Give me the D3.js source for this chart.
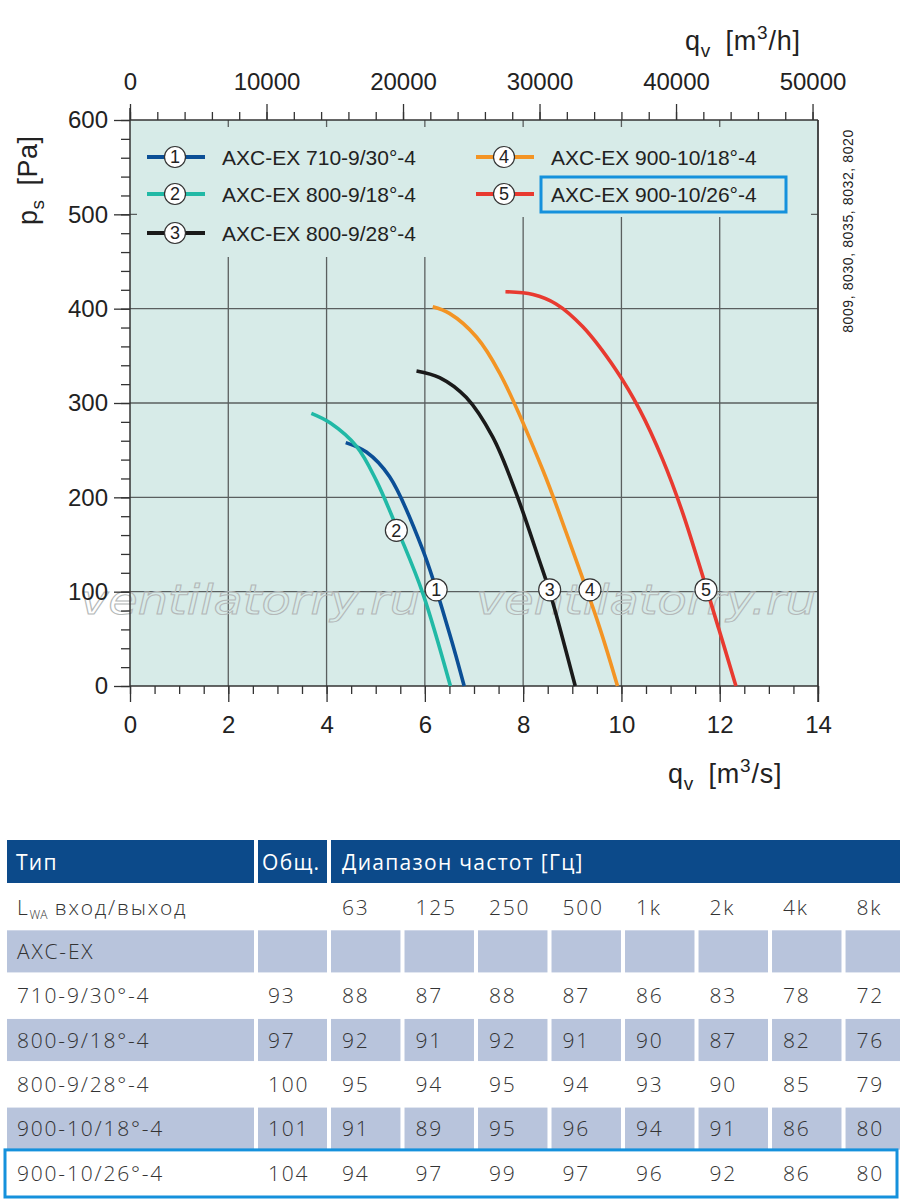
<!DOCTYPE html>
<html lang="ru">
<head>
<meta charset="UTF-8">
<title>AXC-EX characteristic curves</title>
<script src="https://d3js.org/d3.v7.min.js"></script>
<style>
    body { margin: 0; background: #fff; }
    svg { display: block; }
    .axis path, .axis line { stroke: #333; stroke-width: 1.3px; }
    .axis text { font-family: 'Liberation Sans', Arial, sans-serif; font-size: 24px; fill: #222; }
    .grid line { stroke: #5a5f5f; stroke-width: 1.3px; }
    .lbl { font-family: 'Liberation Sans', Arial, sans-serif; fill: #222; }
    .tbl { font-family: 'Open Sans', 'Noto Sans', sans-serif; font-size: 21px; font-weight: 300; fill: #333; letter-spacing: 1.8px; }
    .hdr { font-family: 'Open Sans', 'Noto Sans', sans-serif; font-size: 21px; font-weight: 400; fill: #fff; letter-spacing: 1.3px; }
</style>
</head>
<body>
<svg id="chart" width="900" height="1201"></svg>
<script>
// ---- curve data (qv in m3/s, ps in Pa) ----
const curveNames = ['AXC-EX 710-9/30°-4', 'AXC-EX 800-9/18°-4', 'AXC-EX 800-9/28°-4',
                    'AXC-EX 900-10/18°-4', 'AXC-EX 900-10/26°-4'];
const curveColors = ['#0b4f96', '#21b9a6', '#1a1a1a', '#f39424', '#e83a30'];

const qv1 = [4.39, 4.81, 5.28, 5.96, 6.50, 6.80];
const ps1 = [258, 248, 222, 144, 56, 0];
const qv2 = [3.69, 4.07, 4.61, 5.01, 5.49, 5.96, 6.52];
const ps2 = [289, 279, 254, 218, 160, 98, 0];
const qv3 = [5.83, 6.30, 6.84, 7.38, 7.86, 8.33, 8.54, 9.06];
const ps3 = [334, 327, 306, 264, 204, 133, 100, 0];
const qv4 = [6.16, 6.50, 7.05, 7.52, 8.40, 8.88, 9.55, 9.92];
const ps4 = [402, 395, 370, 332, 229, 162, 63, 0];
const qv5 = [7.64, 8.20, 8.67, 9.21, 9.89, 10.37, 10.84, 11.25, 11.99, 12.33];
const ps5 = [418, 415, 405, 381, 335, 293, 240, 183, 59, 0];

// curve number markers
const markQv = [6.23, 5.42, 8.54, 9.36, 11.72];
const markPs = [102, 165, 102, 102, 102];

// axis ticks
const xTicks = [0, 2, 4, 6, 8, 10, 12, 14];
const yTicks = [0, 100, 200, 300, 400, 500, 600];
const topTicks = [0, 10000, 20000, 30000, 40000, 50000];
const sideNote = '8009, 8030, 8035, 8032, 8020';
const watermark = 'ventilatorry.ru';

// ---- sound power table ----
const tableHead = ['Тип', 'Общ.', 'Диапазон частот [Гц]'];
const freqs = ['63', '125', '250', '500', '1k', '2k', '4k', '8k'];
const types = ['710-9/30°-4', '800-9/18°-4', '800-9/28°-4', '900-10/18°-4', '900-10/26°-4'];
const totals = [93, 97, 100, 101, 104];
const bands = [
    [88, 87, 88, 87, 86, 83, 78, 72],
    [92, 91, 92, 91, 90, 87, 82, 76],
    [95, 94, 95, 94, 93, 90, 85, 79],
    [91, 89, 95, 96, 94, 91, 86, 80],
    [94, 97, 99, 97, 96, 92, 86, 80]
];

const svg = d3.select('#chart');
const x = d3.scaleLinear().domain([0, 14]).range([130, 818]);
const y = d3.scaleLinear().domain([0, 600]).range([686, 120]);
const xTop = d3.scaleLinear().domain([0, 14 * 3600]).range([130, 818]);

// plot background
svg.append('rect')
    .attr('x', x(0)).attr('y', y(600))
    .attr('width', x(14) - x(0)).attr('height', y(0) - y(600))
    .attr('fill', '#d7ebe8');

// grid
const grid = svg.append('g').attr('class', 'grid');
grid.selectAll('.v').data(xTicks.slice(1)).enter().append('line')
    .attr('x1', d => x(d)).attr('x2', d => x(d))
    .attr('y1', y(600)).attr('y2', y(0));
grid.selectAll('.h').data(yTicks.slice(1, -1)).enter().append('line')
    .attr('x1', x(0)).attr('x2', x(14))
    .attr('y1', d => y(d)).attr('y2', d => y(d));

// legend background hides the grid behind it
svg.append('path')
    .attr('d', 'M137,127 H811 V217 H470 V257 H137 Z')
    .attr('fill', '#d7ebe8');

// watermark
[80, 476].forEach(function(wx) {
    svg.append('text')
        .attr('x', wx).attr('y', 614)
        .attr('textLength', 340).attr('lengthAdjust', 'spacingAndGlyphs')
        .style('font-family', "'DejaVu Sans', sans-serif")
        .style('font-style', 'italic').style('font-size', '40px')
        .attr('fill', 'none').attr('stroke', '#b4b8b8').attr('stroke-width', 1)
        .text(watermark);
});

// axes
function styleAxis(g) { g.attr('class', 'axis'); g.select('.domain').remove(); }

svg.append('g').attr('transform', 'translate(0,' + y(0) + ')')
    .call(d3.axisBottom(x).tickValues(d3.range(0, 14.01, 0.5)).tickSize(8).tickFormat(''))
    .call(styleAxis);
svg.append('g').attr('transform', 'translate(0,' + y(0) + ')')
    .call(d3.axisBottom(x).tickValues(xTicks).tickSize(16).tickPadding(14))
    .call(styleAxis);

svg.append('g').attr('transform', 'translate(' + x(0) + ',0)')
    .call(d3.axisLeft(y).tickValues(d3.range(0, 601, 20)).tickSize(9).tickFormat(''))
    .call(styleAxis);
svg.append('g').attr('transform', 'translate(' + x(0) + ',0)')
    .call(d3.axisLeft(y).tickValues(yTicks).tickSize(16).tickPadding(6))
    .call(styleAxis);

svg.append('g').attr('transform', 'translate(0,' + y(600) + ')')
    .call(d3.axisTop(xTop).tickValues(d3.range(0, 50001, 2000)).tickSize(8).tickFormat(''))
    .call(styleAxis);
svg.append('g').attr('transform', 'translate(0,' + y(600) + ')')
    .call(d3.axisTop(xTop).tickValues(topTicks).tickSize(16).tickPadding(14).tickFormat(d3.format('d')))
    .call(styleAxis);

// frame lines
const frame = svg.append('g').attr('stroke', '#333').attr('stroke-width', 1.5);
frame.append('line').attr('x1', x(0)).attr('x2', x(14)).attr('y1', y(0)).attr('y2', y(0));
frame.append('line').attr('x1', x(0)).attr('x2', x(14)).attr('y1', y(600)).attr('y2', y(600));
frame.append('line').attr('x1', x(0)).attr('x2', x(0)).attr('y1', y(600) - 12).attr('y2', y(0));
frame.append('line').attr('x1', x(14)).attr('x2', x(14)).attr('y1', y(600)).attr('y2', y(0) + 16);

// axis titles
function qvTitle(tx, ty, unit) {
    const t = svg.append('text').attr('class', 'lbl').attr('x', tx).attr('y', ty)
        .style('font-size', '27px').style('letter-spacing', '0.8px');
    t.append('tspan').text('q');
    t.append('tspan').attr('dy', 7).style('font-size', '19px').text('v');
    t.append('tspan').attr('dy', -7).text('\u2002[m');
    t.append('tspan').attr('dy', -11).style('font-size', '19px').text('3');
    t.append('tspan').attr('dy', 11).text(unit);
}
qvTitle(685, 50, '/h]');
qvTitle(668, 783, '/s]');

const tLeft = svg.append('text').attr('class', 'lbl')
    .attr('transform', 'translate(37,225) rotate(-90)')
    .style('font-size', '27px').style('letter-spacing', '0.5px');
tLeft.append('tspan').text('p');
tLeft.append('tspan').attr('dy', 7).style('font-size', '19px').text('s');
tLeft.append('tspan').attr('dy', -7).text('\u2002[Pa]');

svg.append('text').attr('class', 'lbl')
    .attr('transform', 'translate(853,231) rotate(-90)')
    .attr('text-anchor', 'middle').style('font-size', '14px').style('letter-spacing', '0.6px')
    .text(sideNote);

// curves
const series = [[qv1, ps1], [qv2, ps2], [qv3, ps3], [qv4, ps4], [qv5, ps5]];
const line = d3.line().x(d => x(d[0])).y(d => y(d[1])).curve(d3.curveCatmullRom.alpha(0.5));
series.forEach(function(s, i) {
    svg.append('path')
        .datum(s[0].map((q, j) => [q, s[1][j]]))
        .attr('d', line)
        .attr('fill', 'none')
        .attr('stroke', curveColors[i])
        .attr('stroke-width', 3.6);
});

function marker(cx, cy, r, n, fs) {
    const g = svg.append('g');
    g.append('circle').attr('cx', cx).attr('cy', cy).attr('r', r)
        .attr('fill', '#fff').attr('stroke', '#333').attr('stroke-width', 1.2);
    g.append('text').attr('class', 'lbl').attr('x', cx).attr('y', cy)
        .attr('text-anchor', 'middle').attr('dy', '0.36em')
        .style('font-size', fs + 'px').text(n);
}

markQv.forEach(function(q, i) { marker(x(q), y(markPs[i]), 11, i + 1, 18); });

// legend
const legX = [147, 476];
const legY = [157, 194, 233];
curveNames.forEach(function(name, i) {
    const col = i < 3 ? 0 : 1;
    const row = i < 3 ? i : i - 3;
    const lx = legX[col], ly = legY[row];
    svg.append('line').attr('x1', lx).attr('x2', lx + 58).attr('y1', ly).attr('y2', ly)
        .attr('stroke', curveColors[i]).attr('stroke-width', 4);
    marker(lx + 28, ly, 10.5, i + 1, 18);
    svg.append('text').attr('class', 'lbl').attr('x', lx + 75).attr('y', ly)
        .attr('dy', '0.36em').style('font-size', '21px').text(name);
});
svg.append('rect').attr('x', 541).attr('y', 177).attr('width', 245).attr('height', 35)
    .attr('fill', 'none').attr('stroke', '#1591dc').attr('stroke-width', 3);

// ---- table ----
const colBand = d3.scaleBand().domain(freqs).range([331, 915]).paddingInner(0.055);
const rowKeys = ['lwa', 'axc'].concat(types);
const rowBand = d3.scaleBand().domain(rowKeys).range([886, 1194]).paddingInner(0.05);
const typeCol = [7, 254];
const totCol = [258, 327];
const lavender = '#b8c4dc';
const navy = '#0c4a8a';

// header
svg.append('rect').attr('x', typeCol[0]).attr('y', 840).attr('width', typeCol[1] - typeCol[0]).attr('height', 43).attr('fill', navy);
svg.append('rect').attr('x', totCol[0]).attr('y', 840).attr('width', totCol[1] - totCol[0]).attr('height', 43).attr('fill', navy);
svg.append('rect').attr('x', colBand(freqs[0])).attr('y', 840).attr('width', 900 - colBand(freqs[0])).attr('height', 43).attr('fill', navy);
[[16, tableHead[0]], [262, tableHead[1]], [342, tableHead[2]]].forEach(function(h) {
    svg.append('text').attr('class', 'hdr').attr('x', h[0]).attr('y', 862).attr('dy', '0.36em').text(h[1]);
});

// body rows
rowKeys.forEach(function(k, i) {
    const ry = rowBand(k), rh = rowBand.bandwidth();
    if (i % 2 === 1) {
        svg.append('rect').attr('x', typeCol[0]).attr('y', ry).attr('width', typeCol[1] - typeCol[0]).attr('height', rh).attr('fill', lavender);
        svg.append('rect').attr('x', totCol[0]).attr('y', ry).attr('width', totCol[1] - totCol[0]).attr('height', rh).attr('fill', lavender);
        freqs.forEach(function(f) {
            svg.append('rect').attr('x', colBand(f)).attr('y', ry)
                .attr('width', Math.min(colBand.bandwidth(), 900 - colBand(f))).attr('height', rh).attr('fill', lavender);
        });
    }
    const cy = ry + rh / 2;
    if (k === 'lwa') {
        const t = svg.append('text').attr('class', 'tbl').attr('x', 17).attr('y', cy).attr('dy', '0.36em');
        t.append('tspan').text('L');
        t.append('tspan').attr('dy', 4).style('font-size', '12px').style('letter-spacing', '0px').text('WA');
        t.append('tspan').attr('dy', -4).text(' вход/выход');
        freqs.forEach(function(f) {
            svg.append('text').attr('class', 'tbl').attr('x', colBand(f) + 11).attr('y', cy).attr('dy', '0.36em').text(f);
        });
    } else if (k === 'axc') {
        svg.append('text').attr('class', 'tbl').attr('x', 17).attr('y', cy).attr('dy', '0.36em').text('AXC-EX');
    } else {
        const ti = i - 2;
        svg.append('text').attr('class', 'tbl').attr('x', 17).attr('y', cy).attr('dy', '0.36em').text(k);
        svg.append('text').attr('class', 'tbl').attr('x', totCol[0] + 10).attr('y', cy).attr('dy', '0.36em').text(totals[ti]);
        freqs.forEach(function(f, j) {
            svg.append('text').attr('class', 'tbl').attr('x', colBand(f) + 11).attr('y', cy).attr('dy', '0.36em').text(bands[ti][j]);
        });
    }
});

// highlight of the last row
const lastY = rowBand(types[types.length - 1]);
svg.append('rect').attr('x', 5).attr('y', lastY - 2).attr('width', 892).attr('height', rowBand.bandwidth() + 5)
    .attr('fill', 'none').attr('stroke', '#1591dc').attr('stroke-width', 3);
</script>
</body>
</html>
